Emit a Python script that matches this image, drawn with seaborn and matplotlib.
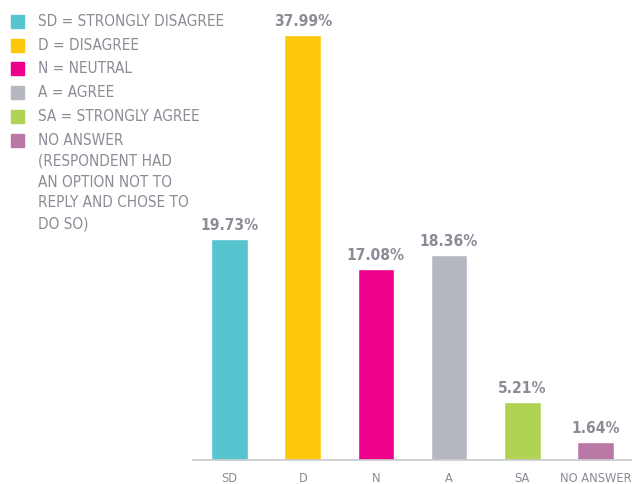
import matplotlib
matplotlib.use("Agg")
import matplotlib.pyplot as plt
import seaborn as sns
import pandas as pd
from matplotlib.patches import Rectangle

categories = ["SD", "D", "N", "A", "SA", "NO ANSWER"]
values = [19.73, 37.99, 17.08, 18.36, 5.21, 1.64]
colors = ["#57c5cf", "#fec80a", "#ec008c", "#b5b8c0", "#b0d353", "#b978a5"]
legend_labels = [
    "SD = STRONGLY DISAGREE",
    "D = DISAGREE",
    "N = NEUTRAL",
    "A = AGREE",
    "SA = STRONGLY AGREE",
    "NO ANSWER\n(RESPONDENT HAD\nAN OPTION NOT TO\nREPLY AND CHOSE TO\nDO SO)",
]

sns.set_style("white")
plt.rcParams["font.family"] = ["DejaVu Sans"]
plt.rcParams["font.stretch"] = "condensed"
TXT = "#8a8c96"

df = pd.DataFrame({"cat": categories, "val": values})

W, H = 632, 485
fig = plt.figure(figsize=(W / 100, H / 100), dpi=100)
ax = fig.add_axes([193 / W, 1 - 461 / H, (632 - 193) / W, (461 - 13.4) / H])
sns.barplot(data=df, x="cat", y="val", hue="cat", palette=colors, order=categories,
            hue_order=categories, width=0.5, legend=False, ax=ax, saturation=1)
ax.set_xlim(-0.5, 5.5)
ax.set_ylim(0, 40)
ax.set_xlabel("")
ax.set_ylabel("")
ax.set_yticks([])
for s in ["top", "right", "left"]:
    ax.spines[s].set_visible(False)
ax.spines["bottom"].set_color("#c8cacd")
ax.spines["bottom"].set_linewidth(1.2)
ax.tick_params(axis="x", length=0, pad=8, labelsize=9.2, colors=TXT)

for i, v in enumerate(values):
    ax.annotate(f"{v:.2f}%", (i, v), xytext=(0, 5), textcoords="offset points",
                ha="center", va="bottom", fontsize=11.2, fontweight="bold", color=TXT)

# legend
rows_y = [22, 46, 69, 93, 117, 141]
for y, lab, c in zip(rows_y, legend_labels, colors):
    fig.patches.append(Rectangle((11 / W, 1 - (y + 6.5) / H), 13 / W, 13 / H,
                                 transform=fig.transFigure, color=c, figure=fig))
    fig.text(38 / W, 1 - (y - 8) / H, lab, ha="left", va="top", fontsize=11,
             color=TXT, linespacing=1.48)

fig.savefig("out.png", dpi=100)
